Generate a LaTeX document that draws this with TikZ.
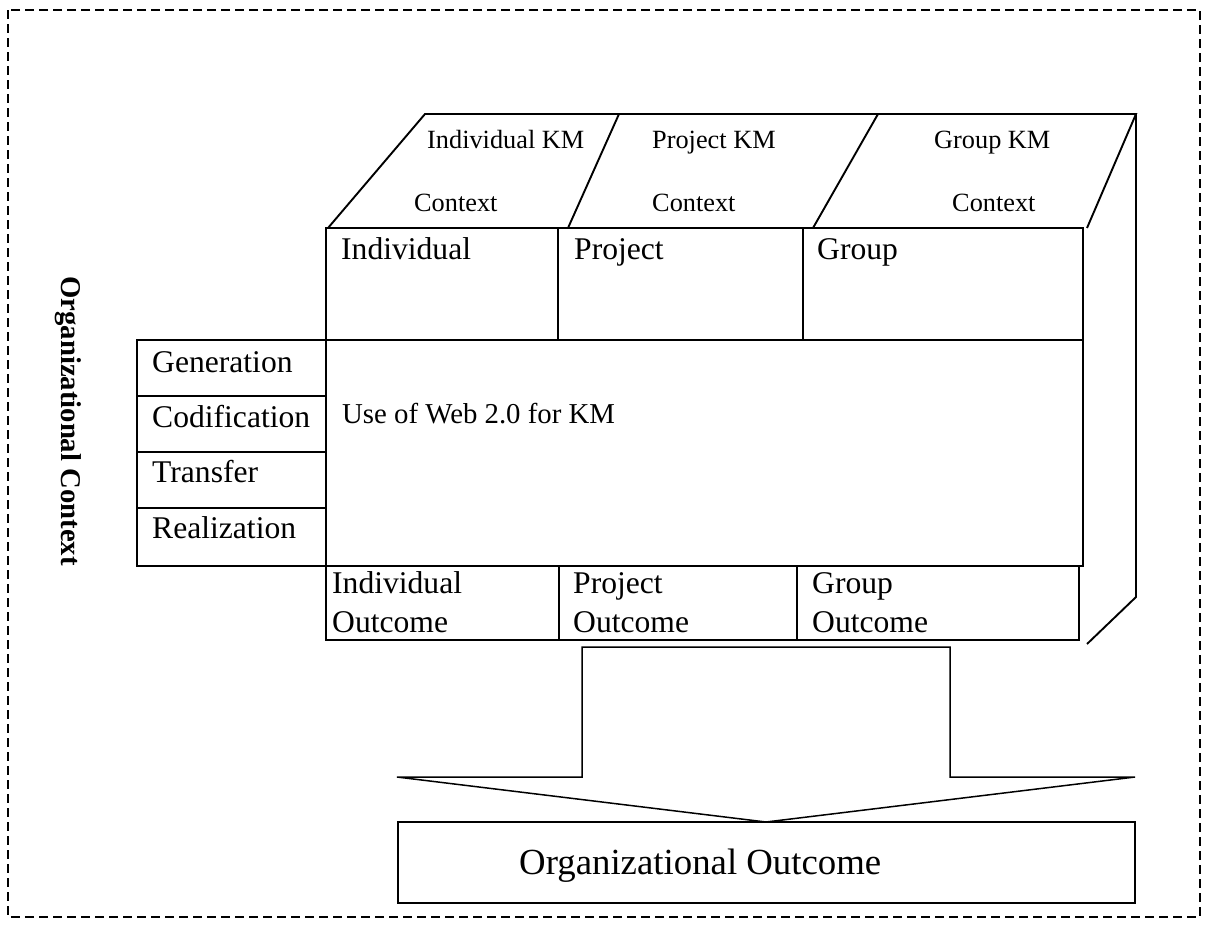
\documentclass[tikz,border=0pt]{standalone}
\usepackage{fontspec}
\setmainfont{Liberation Serif}
\begin{document}
\begin{tikzpicture}[x=1pt, y=-1pt,
  frame/.style={line width=1.9pt, line join=miter},
  thin frame/.style={line width=1.5pt, line join=miter},
  lbl/.style={anchor=base west, inner sep=0pt, font=\fontsize{31.6}{36}\selectfont},
  ctx/.style={anchor=base west, inner sep=0pt, font=\fontsize{26.3}{30}\selectfont}]
\useasboundingbox (0,0) rectangle (1207,927);

% outer dashed frame
\draw[line width=1.6pt, dash pattern=on 9pt off 5pt] (8,10) rectangle (1200,917);

% side label
\node[rotate=-90, inner sep=0pt, font=\fontsize{28.7}{32}\selectfont\bfseries] (orgctx) at (68,421) {Organizational Context};

% top face of the cube
\draw[frame] (328,228) -- (425,114) -- (1136,114) -- (1087,228);
\draw[frame] (619,114) -- (568,228);
\draw[frame] (878,114) -- (813,228);
% side face of the cube
\draw[frame] (1136,114) -- (1136,597) -- (1087,644);

\node[ctx] (indkm)  at (427,148) {Individual KM};
\node[ctx] (indctx) at (414,211) {Context};
\node[ctx] (prjkm)  at (652,148) {Project KM};
\node[ctx] (prjctx) at (652,211) {Context};
\node[ctx] (grpkm)  at (934,148) {Group KM};
\node[ctx] (grpctx) at (952,211) {Context};

% top row of levels
\draw[frame] (326,228) rectangle (1083,340);
\draw[frame] (558,228) -- (558,340);
\draw[frame] (803,228) -- (803,340);
\node[lbl] (ind) at (341,259) {Individual};
\node[lbl] (prj) at (574,259) {Project};
\node[lbl] (grp) at (817,259) {Group};

% central cell
\draw[frame] (326,340) rectangle (1083,566);
\node[anchor=base west, inner sep=0pt, font=\fontsize{28.8}{33}\selectfont] (web) at (342,423) {Use of Web 2.0 for KM};

% KM processes column
\draw[frame] (137,340) rectangle (326,566);
\draw[frame] (137,396) -- (326,396);
\draw[frame] (137,452) -- (326,452);
\draw[frame] (137,508) -- (326,508);
\node[lbl] (gen) at (152,372) {Generation};
\node[lbl] (cod) at (152,427) {Codification};
\node[lbl] (trf) at (152,482) {Transfer};
\node[lbl] (rea) at (152,538) {Realization};

% outcome row
\draw[frame] (326,566) rectangle (1079,640);
\draw[frame] (559,566) -- (559,640);
\draw[frame] (797,566) -- (797,640);
\node[lbl] (indout) at (332,593) {Individual};
\node[lbl] (indout2) at (332,632) {Outcome};
\node[lbl] (prjout) at (573,593) {Project};
\node[lbl] (prjout2) at (573,632) {Outcome};
\node[lbl] (grpout) at (812,593) {Group};
\node[lbl] (grpout2) at (812,632) {Outcome};

% block arrow down to the organizational outcome
\draw[thin frame] (582,647) -- (950,647) -- (950,777) -- (1135,777)
  -- (766,822) -- (397,777) -- (582,777) -- cycle;

% organizational outcome box
\draw[frame] (398,822) rectangle (1135,903);
\node[anchor=base west, inner sep=0pt, font=\fontsize{36.8}{42}\selectfont] (orgout) at (519,874) {Organizational Outcome};
\end{tikzpicture}
\end{document}
